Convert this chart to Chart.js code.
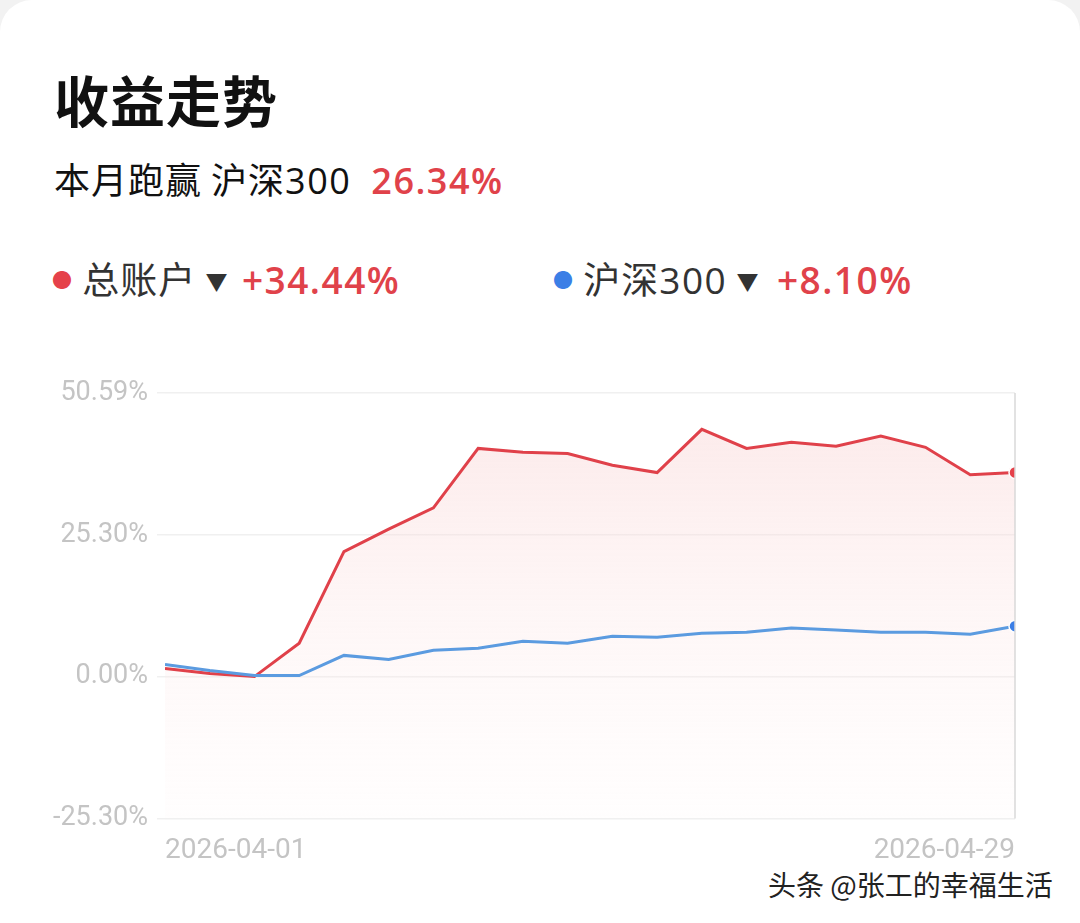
<!DOCTYPE html>
<html><head><meta charset="utf-8">
<script src="https://cdn.jsdelivr.net/npm/chart.js@4"></script>
<style>
html,body{margin:0;padding:0;background:#f2f2f2;width:1080px;height:923px;overflow:hidden;font-family:"Noto Sans CJK SC","Noto Sans",sans-serif;}
.card{position:absolute;left:0;top:0;width:1080px;height:960px;background:#fff;border-radius:32px;}
.t{position:absolute;white-space:nowrap;}
.n{font-family:"Open Sans","Noto Sans",sans-serif;letter-spacing:1.5px}
#wrap{position:absolute;left:0;top:364px;width:1080px;height:512px;}
</style></head><body>
<div class="card"></div>
<div class="t" style="left:54px;top:60px;font-size:55px;font-weight:700;color:#111;line-height:76px;letter-spacing:1px">收益走势</div>
<div class="t" style="left:54px;top:153px;font-size:36px;color:#111;line-height:50px;letter-spacing:1px">本月跑赢 沪深<span class="n">300</span><span class="n" style="color:#e0424a;font-weight:600;margin-left:20px">26.34%</span></div>
<div class="t" style="left:52px;top:252px;font-size:37px;color:#333;line-height:52px;letter-spacing:1px"><span style="color:#e5414a;font-size:20px;vertical-align:6px">●</span> 总账户 <span style="font-size:22px;vertical-align:4px">▼</span> <span class="n" style="color:#e0424a;font-weight:600;margin-left:4px">+34.44%</span></div>
<div class="t" style="left:553px;top:252px;font-size:37px;color:#333;line-height:52px;letter-spacing:1px"><span style="color:#3b7fe6;font-size:20px;vertical-align:6px">●</span> 沪深<span class="n">300</span> <span style="font-size:22px;vertical-align:4px">▼</span> <span class="n" style="color:#e0424a;font-weight:600;margin-left:8px">+8.10%</span></div>
<div class="t" style="left:768px;top:864px;font-size:28px;color:#222;line-height:40px">头条 @张工的幸福生活</div>
<div id="wrap"><canvas id="c"></canvas></div>
<script>
const dates=["2026-03-27","2026-03-30","2026-03-31","2026-04-01","2026-04-02","2026-04-03","2026-04-07","2026-04-08","2026-04-09","2026-04-10","2026-04-13","2026-04-14","2026-04-15","2026-04-16","2026-04-17","2026-04-20","2026-04-21","2026-04-22","2026-04-23","2026-04-29"];
const account=[1.44,0.54,0,5.95,22.3,26.3,30.1,40.7,40.0,39.8,37.7,36.4,44.1,40.7,41.8,41.1,42.9,40.9,36.0,36.4];
const hs300=[2.16,1.08,0.18,0.18,3.78,3.06,4.68,5.05,6.31,5.95,7.21,7.03,7.75,7.93,8.65,8.29,7.93,7.93,7.57,9.0];
const yTicks=[-25.30,0,25.30,50.59];
const xTickIdx=[0,19];
const xTickText=["2026-04-01","2026-04-29"];
const pts=a=>a.map((v,i)=>({x:i,y:v}));
const lastOnly=n=>(ctx)=>ctx.dataIndex===n-1?6:0;
const vline={id:'vline',afterDatasetsDraw(ch){const a=ch.chartArea,c=ch.ctx;c.save();c.strokeStyle='#d8d8d8';c.lineWidth=1.5;c.beginPath();c.moveTo(a.right,a.top);c.lineTo(a.right,a.bottom);c.stroke();c.restore();}};
new Chart(document.getElementById('c'),{
 type:'line',
 data:{datasets:[
  {data:pts(hs300),borderColor:'#5b9be0',borderWidth:3,pointRadius:lastOnly(hs300.length),pointBackgroundColor:'#3b7fe6',pointBorderColor:'#fff',pointBorderWidth:1.5,fill:false,tension:0},
  {data:pts(account),borderColor:'#e0414a',borderWidth:3,pointRadius:lastOnly(account.length),pointBackgroundColor:'#e5414a',pointBorderColor:'#fff',pointBorderWidth:1.5,tension:0,
   fill:'start',backgroundColor:(ctx)=>{const a=ctx.chart.chartArea;if(!a)return'rgba(250,220,220,0.3)';const g=ctx.chart.ctx.createLinearGradient(0,a.top,0,a.bottom);g.addColorStop(0,'rgba(248,205,205,0.45)');g.addColorStop(1,'rgba(255,245,245,0.15)');return g;}}
 ]},
 options:{responsive:true,maintainAspectRatio:false,animation:false,
  layout:{padding:{left:0,right:65,top:29,bottom:0}},
  plugins:{legend:{display:false},tooltip:{enabled:false}},
  scales:{
   x:{type:'linear',min:0,max:19,grid:{display:false},border:{display:false},
    afterBuildTicks:s=>{s.ticks=xTickIdx.map(v=>({value:v}));},
    ticks:{align:'inner',maxRotation:0,color:'#c4c4c4',font:{size:28,family:'Roboto'},padding:8,callback:(v)=>xTickText[xTickIdx.indexOf(v)]}},
   y:{min:-25.30,max:50.59,afterBuildTicks:s=>{s.ticks=yTicks.map(v=>({value:v}));},
    grid:{color:'#f0f0f0',lineWidth:1.5},border:{display:false},
    afterFit:s=>{s.width=165;},
    ticks:{color:'#c4c4c4',font:{size:27,family:'Roboto'},padding:9,callback:v=>v.toFixed(2)+'%'}}
  }},
 plugins:[vline]
});
</script></body></html>
